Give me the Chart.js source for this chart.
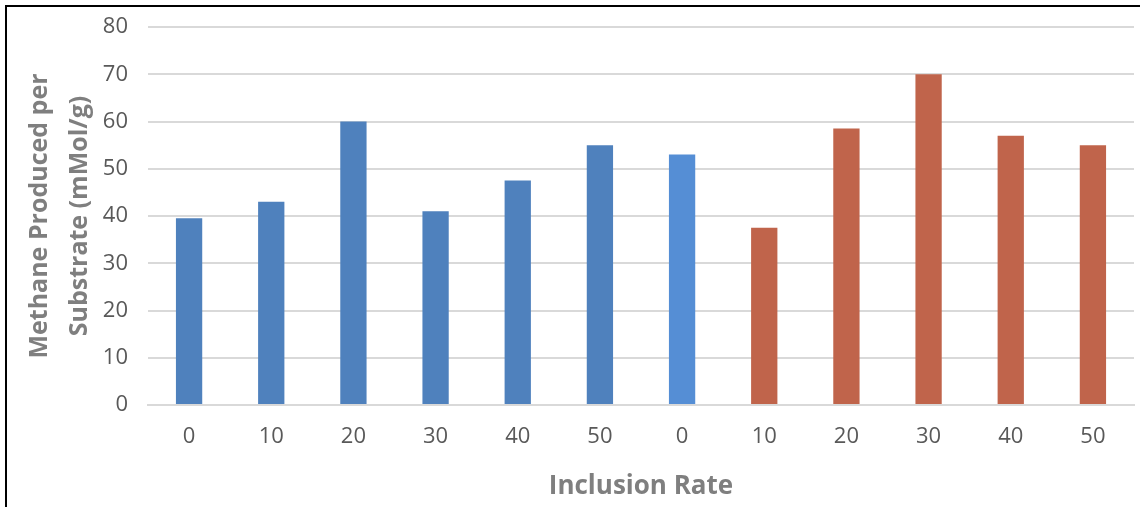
<!DOCTYPE html>
<html>
<head>
<meta charset="utf-8">
<script src="https://cdn.jsdelivr.net/npm/chart.js@4"></script>
<style>
  body { margin: 0; background: #fff; }
  #wrap { position: relative; width: 1148px; height: 507px; }
  #frame {
    position: absolute; left: 5px; top: 5px; width: 1133px; height: 502px;
    border-left: 2px solid #000; border-top: 2px solid #000;
    pointer-events: none;
  }
</style>
</head>
<body>
<div id="wrap">
  <canvas id="myChart" width="1148" height="507"></canvas>
  <div id="frame"></div>
</div>
<script>
// categories (inclusion rate), two groups of six
const categories = ['0', '10', '20', '30', '40', '50', '0', '10', '20', '30', '40', '50'];
// methane produced per substrate (mMol/g)
const methaneValues = [39.5, 43, 60, 41, 47.5, 55, 53, 37.5, 58.5, 70, 57, 55];
const barColors = [
    '#4F81BD', '#4F81BD', '#4F81BD', '#4F81BD', '#4F81BD', '#4F81BD',
    '#558ED5',
    '#C0644B', '#C0644B', '#C0644B', '#C0644B', '#C0644B'
];
const yTicks = [0, 10, 20, 30, 40, 50, 60, 70, 80];

const fontFamily = "'Open Sans', sans-serif";
const padLeft = 20;

const ctx = document.getElementById('myChart');

const myChart = new Chart(ctx, {
    type: 'bar',
    data: {
        labels: categories,
        datasets: [{
            data: methaneValues,
            backgroundColor: barColors,
            borderWidth: 0,
            barPercentage: 0.32,
            categoryPercentage: 1.0
        }]
    },
    options: {
        responsive: false,
        animation: false,
        layout: { padding: { left: padLeft, right: 14, top: 27, bottom: 0 } },
        plugins: {
            legend: { display: false },
            tooltip: { enabled: false }
        },
        scales: {
            x: {
                grid: { display: false },
                border: { color: '#D9D9D9', width: 2 },
                ticks: { color: '#595959', font: { family: fontFamily, size: 22 }, padding: 11 },
                title: {
                    display: true,
                    text: 'Inclusion Rate',
                    color: '#7F7F7F',
                    font: { family: fontFamily, size: 26, weight: 'bold' },
                    padding: { top: 2, bottom: 5 }
                },
                afterFit: (scale) => { scale.height = 102; }
            },
            y: {
                min: 0,
                max: 80,
                afterBuildTicks: (scale) => { scale.ticks = yTicks.map(v => ({ value: v })); },
                grid: { color: '#D9D9D9', lineWidth: 2, drawTicks: false },
                border: { display: false },
                ticks: { color: '#595959', font: { family: fontFamily, size: 22 }, padding: 20 },
                title: {
                    display: true,
                    text: ['Methane Produced per', 'Substrate (mMol/g)'],
                    color: '#7F7F7F',
                    font: { family: fontFamily, size: 25, weight: 'bold', lineHeight: 1.6 },
                    padding: 0
                },
                afterFit: (scale) => {
                    scale.width = 148 - padLeft;
                    scale.paddingTop = 0;
                    scale.paddingBottom = 0;
                }
            }
        }
    }
});
</script>
</body>
</html>
